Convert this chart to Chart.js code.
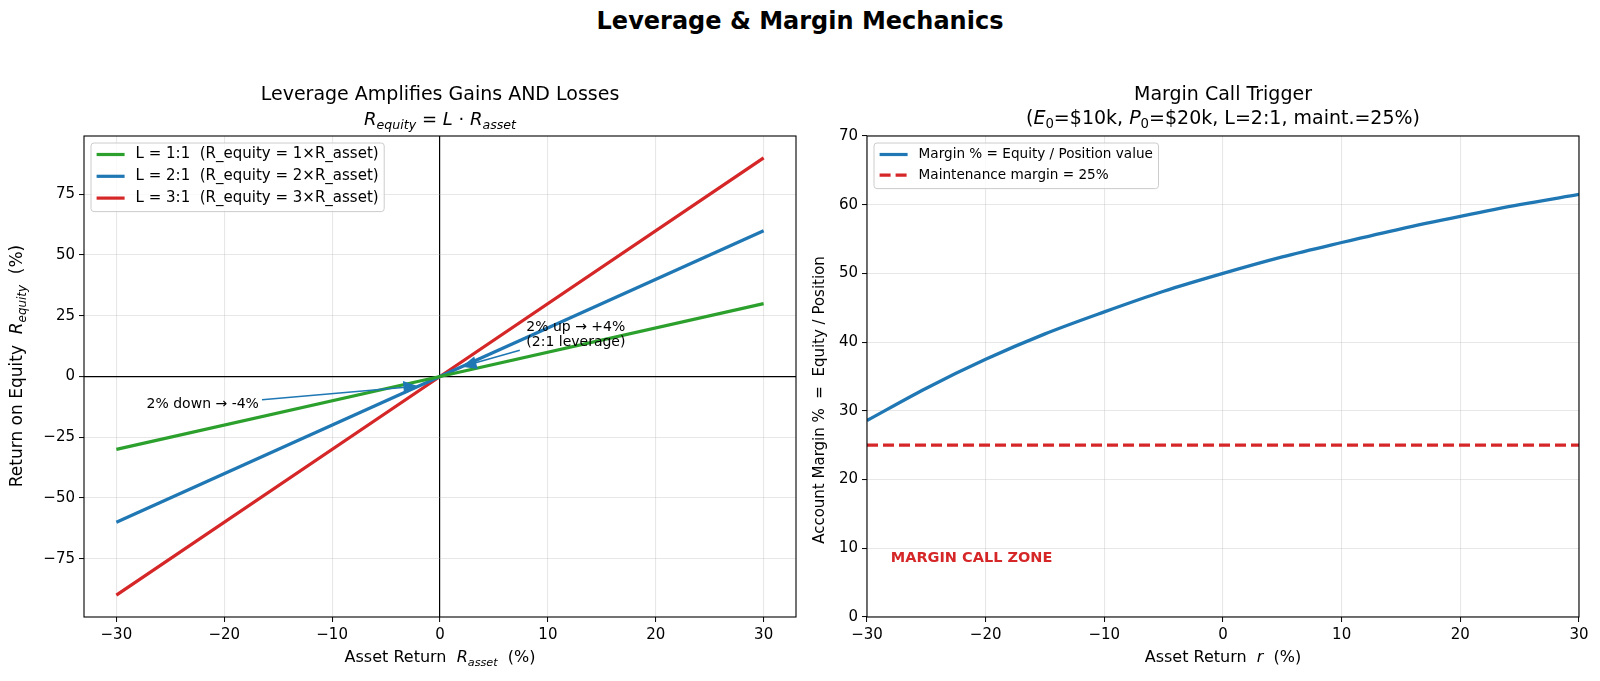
<!DOCTYPE html>
<html>
<head>
<meta charset="utf-8">
<script src="https://cdn.jsdelivr.net/npm/chart.js@4.4.1/dist/chart.umd.min.js"></script>
<style>
  body { margin: 0; background: #fff; }
  #wrap { position: relative; width: 1600px; height: 681px; }
  #title { position: absolute; left: 0; top: 7px; width: 1600px; text-align: center;
           font: bold 24px 'DejaVu Sans'; color: #000; }
  canvas { position: absolute; top: 0; }
</style>
</head>
<body>
<div id="wrap">
  <div id="title">Leverage &amp; Margin Mechanics</div>
  <canvas id="lev" width="800" height="681" style="left:0"></canvas>
  <canvas id="mar" width="800" height="681" style="left:800px"></canvas>
</div>
<script>
// left panel data
var assetReturn = [-30, 0, 30];
var equityL1 = [-30, 0, 30];
var equityL2 = [-60, 0, 60];
var equityL3 = [-90, 0, 90];
var levLabels = ['L = 1:1  (R_equity = 1\u00d7R_asset)', 'L = 2:1  (R_equity = 2\u00d7R_asset)', 'L = 3:1  (R_equity = 3\u00d7R_asset)'];
var levColors = ['#2ca02c', '#1f77b4', '#d62728'];
var levXTicks = [-30, -20, -10, 0, 10, 20, 30];
var levYTicks = [-75, -50, -25, 0, 25, 50, 75];

// right panel data
var marginReturn = [-30, -25, -20, -15, -10, -5, 0, 5, 10, 15, 20, 25, 30];
var marginPct = [28.6, 33.3, 37.5, 41.2, 44.4, 47.4, 50.0, 52.4, 54.5, 56.5, 58.3, 60.0, 61.5];
var maintMargin = 25;
var marLabels = ['Margin % = Equity / Position value', 'Maintenance margin = 25%'];
var marXTicks = [-30, -20, -10, 0, 10, 20, 30];
var marYTicks = [0, 10, 20, 30, 40, 50, 60, 70];

Chart.defaults.font.family = "'DejaVu Sans'";
Chart.defaults.color = '#000';

var GRID = 'rgba(176,176,176,0.3)';
var FONT = "'DejaVu Sans'";

function fontFor(style, size) {
    var small = (style === 'sub' || style === 'subn');
    var it = (style === 'i' || style === 'sub') ? 'italic ' : '';
    return it + (small ? size * 0.7 : size) + 'px ' + FONT;
}

// draws a line made of text pieces (normal, italic, subscripts)
function drawRich(ctx, segs, x, y, size, align) {
    var w = 0;
    segs.forEach(function (s) { ctx.font = fontFor(s[1], size); w += ctx.measureText(s[0]).width; });
    var cx = align === 'center' ? x - w / 2 : (align === 'right' ? x - w : x);
    ctx.textAlign = 'left';
    ctx.textBaseline = 'middle';
    segs.forEach(function (s) {
        ctx.font = fontFor(s[1], size);
        var dy = (s[1] === 'sub' || s[1] === 'subn') ? size * 0.3 : 0;
        ctx.fillText(s[0], cx, y + dy);
        cx += ctx.measureText(s[0]).width;
    });
}

function minusTick(v) { return String(v).replace('-', '\u2212'); }

var decor = {
    id: 'decor',
    afterDraw: function (chart, args, o) {
        var ctx = chart.ctx, a = chart.chartArea, xs = chart.scales.x, ys = chart.scales.y;
        ctx.save();

        // annotations with arrows
        (o.notes || []).forEach(function (n) {
            var hx = xs.getPixelForValue(n.head[0]), hy = ys.getPixelForValue(n.head[1]);
            var tx = xs.getPixelForValue(n.tail[0]), ty = ys.getPixelForValue(n.tail[1]);
            var ang = Math.atan2(hy - ty, hx - tx);
            var c = Math.cos(ang), s = Math.sin(ang);
            ctx.strokeStyle = '#1f77b4';
            ctx.fillStyle = '#1f77b4';
            ctx.lineWidth = 1.5;
            ctx.beginPath();
            ctx.moveTo(tx, ty);
            ctx.lineTo(hx - 10 * c, hy - 10 * s);
            ctx.stroke();
            ctx.beginPath();
            ctx.moveTo(hx, hy);
            ctx.lineTo(hx - 15 * c + 6.5 * s, hy - 15 * s - 6.5 * c);
            ctx.lineTo(hx - 15 * c - 6.5 * s, hy - 15 * s + 6.5 * c);
            ctx.closePath();
            ctx.fill();
            ctx.fillStyle = '#000';
            ctx.font = '14px ' + FONT;
            ctx.textAlign = 'left';
            ctx.textBaseline = 'middle';
            var px = xs.getPixelForValue(n.at[0]), py = ys.getPixelForValue(n.at[1]);
            n.text.forEach(function (t, i) { ctx.fillText(t, px, py + i * 15.5); });
        });

        // free text
        (o.texts || []).forEach(function (t) {
            ctx.fillStyle = t.color;
            ctx.font = t.font;
            ctx.textAlign = 'left';
            ctx.textBaseline = 'middle';
            ctx.fillText(t.text, xs.getPixelForValue(t.at[0]), ys.getPixelForValue(t.at[1]));
        });

        // frame
        ctx.strokeStyle = '#000';
        ctx.lineWidth = 1.1;
        ctx.strokeRect(a.left, a.top, a.right - a.left, a.bottom - a.top);

        // legend
        var L = o.legend;
        ctx.font = L.size + 'px ' + FONT;
        var tw = 0;
        L.labels.forEach(function (t) { tw = Math.max(tw, ctx.measureText(t).width); });
        var bx = a.left + 7, by = a.top + 7;
        var bw = 5.6 + 28 + 11 + tw + 5.6;
        var bh = 11.5 + (L.labels.length - 1) * L.row + 13.5;
        ctx.fillStyle = 'rgba(255,255,255,0.8)';
        ctx.strokeStyle = '#cccccc';
        ctx.lineWidth = 1;
        ctx.beginPath();
        ctx.roundRect(bx, by, bw, bh, 3);
        ctx.fill();
        ctx.stroke();
        L.labels.forEach(function (t, i) {
            var ry = by + 11.5 + i * L.row;
            ctx.strokeStyle = L.colors[i];
            ctx.lineWidth = 3.2;
            ctx.setLineDash(L.dashes && L.dashes[i] ? L.dashes[i] : []);
            ctx.beginPath();
            ctx.moveTo(bx + 5.6, ry);
            ctx.lineTo(bx + 5.6 + 28, ry);
            ctx.stroke();
            ctx.setLineDash([]);
            ctx.fillStyle = '#000';
            ctx.font = L.size + 'px ' + FONT;
            ctx.textAlign = 'left';
            ctx.textBaseline = 'middle';
            ctx.fillText(t, bx + 5.6 + 28 + 11, ry);
        });

        // titles and axis labels
        ctx.fillStyle = '#000';
        var cx = (a.left + a.right) / 2;
        o.titles.forEach(function (t) { drawRich(ctx, t.segs, cx, t.y, t.size, 'center'); });
        drawRich(ctx, o.xLabel, cx, 658, 16, 'center');
        ctx.save();
        ctx.translate(o.yLabelPos[0], o.yLabelPos[1]);
        ctx.rotate(-Math.PI / 2);
        drawRich(ctx, o.yLabel, 0, 0, o.yLabelSize, 'center');
        ctx.restore();

        ctx.restore();
    }
};

function axis(min, max, ticks, fitSize, isX, zeroLine) {
    return {
        type: 'linear',
        min: min,
        max: max,
        afterBuildTicks: function (s) { s.ticks = ticks.map(function (v) { return { value: v }; }); },
        afterFit: function (s) { if (isX) { s.height = fitSize; } else { s.width = fitSize; } },
        border: { display: false },
        grid: {
            color: function (c) { return (zeroLine && c.tick && c.tick.value === 0) ? '#000' : GRID; },
            lineWidth: function (c) { return (zeroLine && c.tick && c.tick.value === 0) ? 1.2 : 1.1; },
            drawTicks: true,
            tickColor: '#000',
            tickLength: 5,
            tickWidth: 1
        },
        ticks: { font: { size: 15 }, padding: 4, maxRotation: 0, autoSkip: false, callback: minusTick }
    };
}

function pts(xs, ys) { return xs.map(function (x, i) { return { x: x, y: ys[i] }; }); }

new Chart(document.getElementById('lev'), {
    type: 'line',
    data: {
        datasets: [equityL1, equityL2, equityL3].map(function (d, i) {
            return { label: levLabels[i], data: pts(assetReturn, d), borderColor: levColors[i], borderWidth: 3.3, pointRadius: 0, fill: false };
        })
    },
    options: {
        responsive: false,
        animation: false,
        devicePixelRatio: 1,
        layout: { padding: { left: 0, right: 4, top: 136, bottom: 0 } },
        scales: {
            x: axis(-33, 33, levXTicks, 64, true, true),
            y: axis(-99, 99, levYTicks, 84, false, true)
        },
        plugins: {
            legend: { display: false },
            tooltip: { enabled: false },
            decor: {
                titles: [
                    { segs: [['Leverage Amplifies Gains AND Losses', 'n']], y: 95, size: 19 },
                    { segs: [['R', 'i'], ['equity', 'sub'], [' = ', 'n'], ['L', 'i'], [' \u00b7 ', 'n'], ['R', 'i'], ['asset', 'sub']], y: 120, size: 18 }
                ],
                xLabel: [['Asset Return  ', 'n'], ['R', 'i'], ['asset', 'sub'], ['  (%)', 'n']],
                yLabel: [['Return on Equity  ', 'n'], ['R', 'i'], ['equity', 'sub'], ['  (%)', 'n']],
                yLabelSize: 17,
                yLabelPos: [18, 366],
                legend: { labels: levLabels, colors: levColors, size: 15, row: 21.8 },
                notes: [
                    { text: ['2% up \u2192 +4%', '(2:1 leverage)'], at: [8, 20.3], tail: [7.4, 10.8], head: [2, 4] },
                    { text: ['2% down \u2192 -4%'], at: [-27.2, -11.6], tail: [-16.5, -9.6], head: [-2, -4] }
                ]
            }
        }
    },
    plugins: [decor]
});

new Chart(document.getElementById('mar'), {
    type: 'line',
    data: {
        datasets: [
            { label: marLabels[0], data: pts(marginReturn, marginPct), borderColor: '#1f77b4', borderWidth: 3.3, pointRadius: 0, cubicInterpolationMode: 'monotone', fill: false },
            { label: marLabels[1], data: pts([-30, 30], [maintMargin, maintMargin]), borderColor: '#d62728', borderWidth: 3.2, borderDash: [11, 5], pointRadius: 0, fill: false }
        ]
    },
    options: {
        responsive: false,
        animation: false,
        devicePixelRatio: 1,
        layout: { padding: { left: 0, right: 21, top: 136, bottom: 0 } },
        scales: {
            x: axis(-30, 30, marXTicks, 64, true, false),
            y: axis(0, 70, marYTicks, 67, false, false)
        },
        plugins: {
            legend: { display: false },
            tooltip: { enabled: false },
            decor: {
                titles: [
                    { segs: [['Margin Call Trigger', 'n']], y: 95, size: 19 },
                    { segs: [['(', 'n'], ['E', 'i'], ['0', 'subn'], ['=$10k, ', 'n'], ['P', 'i'], ['0', 'subn'], ['=$20k, L=2:1, maint.=25%)', 'n']], y: 119, size: 19 }
                ],
                xLabel: [['Asset Return  ', 'n'], ['r', 'i'], ['  (%)', 'n']],
                yLabel: [['Account Margin %  =  Equity / Position', 'n']],
                yLabelSize: 15,
                yLabelPos: [20, 400],
                legend: { labels: marLabels, colors: ['#1f77b4', '#d62728'], dashes: [null, [11, 5]], size: 13.6, row: 20.6 },
                texts: [
                    { text: 'MARGIN CALL ZONE', at: [-28, 8.5], font: 'bold 14.5px ' + FONT, color: '#d62728' }
                ]
            }
        }
    },
    plugins: [decor]
});
</script>
</body>
</html>
